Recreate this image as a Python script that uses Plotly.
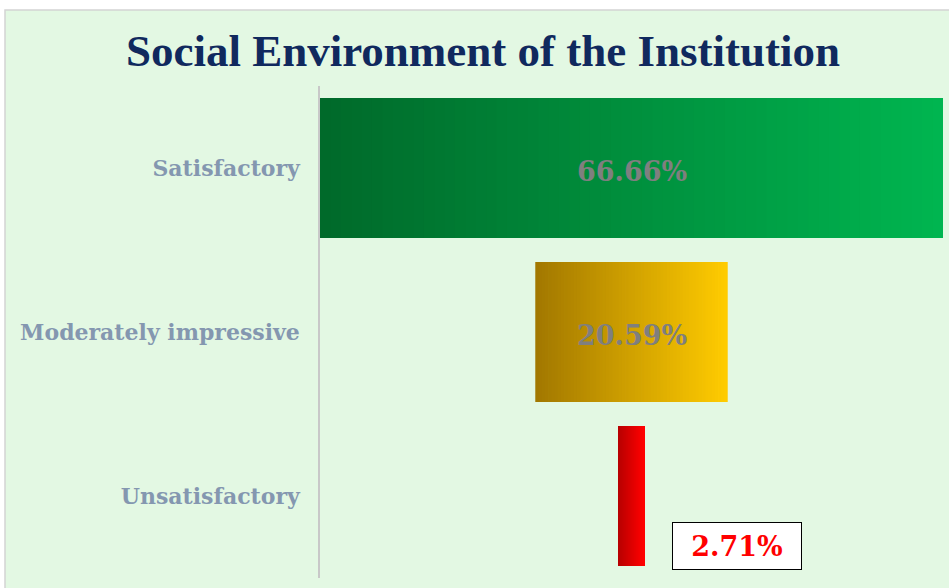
import plotly.graph_objects as go

categories = ["Satisfactory", "Moderately impressive", "Unsatisfactory"]
values = [66.66, 20.59, 2.71]
labels = ["66.66%", "20.59%", "2.71%"]
grad_left = ["#006A2A", "#A27800", "#B80000"]
grad_right = ["#00B550", "#FFCB00", "#FF0000"]

W, H = 949, 588
L, R, T, B = 320, 6, 86, 10
PW, PH = W - L - R, H - T - B
vmax = max(values)

def hex2rgb(h):
    h = h.lstrip("#")
    return tuple(int(h[i:i + 2], 16) for i in (0, 2, 4))

def mix(a, b, t):
    ca, cb = hex2rgb(a), hex2rgb(b)
    return "rgb(%d,%d,%d)" % tuple(round(ca[k] + (cb[k] - ca[k]) * t) for k in range(3))

fig = go.Figure()
N = 60
for i, (cat, v) in enumerate(zip(categories, values)):
    seg = v / N
    xs, bases, cols = [], [], []
    for k in range(N):
        xs.append(seg * (1.25 if k < N - 1 else 1.0))
        bases.append(-v / 2 + k * seg)
        cols.append(mix(grad_left[i], grad_right[i], k / (N - 1)))
    fig.add_trace(go.Bar(
        y=[cat] * N, x=xs, base=bases, orientation="h",
        width=0.854, marker=dict(color=cols, line=dict(width=0)),
        showlegend=False, hoverinfo="skip"))

# inside labels for the two big bars
for cat, lab in zip(categories[:2], labels[:2]):
    fig.add_annotation(
        x=0, y=cat, xref="x", yref="y", yshift=-3,
        text="<b>%s</b>" % lab, showarrow=False,
        font=dict(family="DejaVu Serif", size=27, color="#7F7F7F"))

# boxed label for the small bar
fig.add_annotation(
    x=values[2] / 2, y=categories[2], xref="x", yref="y",
    xanchor="left", yanchor="middle", xshift=28, yshift=-50,
    text="<b>%s</b>" % labels[2], showarrow=False,
    font=dict(family="DejaVu Serif", size=27, color="#FF0000"),
    bgcolor="white", bordercolor="black", borderwidth=1, borderpad=0,
    width=128, height=46)

def px_x(p):
    return (p - L) / PW

def px_y(p):
    return (H - B - p) / PH

fig.add_shape(type="rect", xref="paper", yref="paper",
              x0=px_x(5), x1=px_x(960), y0=px_y(600), y1=px_y(10),
              fillcolor="#E3F8E3", line=dict(color="#D4D4D4", width=1.5),
              layer="below")

fig.update_layout(
    width=W, height=H,
    margin=dict(l=L, r=R, t=T, b=B),
    paper_bgcolor="white", plot_bgcolor="rgba(0,0,0,0)",
    barmode="overlay",
    title=dict(text="<b>Social Environment of the Institution</b>",
               x=(483) / W, xanchor="center", y=1 - 50 / H, yanchor="middle",
               font=dict(family="Liberation Serif", size=45, color="#10295E")),
    xaxis=dict(range=[-vmax / 2, vmax / 2], visible=False, fixedrange=True),
    yaxis=dict(categoryorder="array", categoryarray=categories,
               range=[2.5, -0.5], showgrid=False, zeroline=False,
               showline=True, linecolor="#C8C8C8", linewidth=1.5,
               ticks="", ticklabelstandoff=14, fixedrange=True,
               tickfont=dict(family="DejaVu Serif", size=22, color="#8497B0",
                             weight="bold")),
)

fig.write_html("out.html", config={"displayModeBar": False},
               post_script="document.body.style.margin='0px';document.body.style.overflow='hidden';")
